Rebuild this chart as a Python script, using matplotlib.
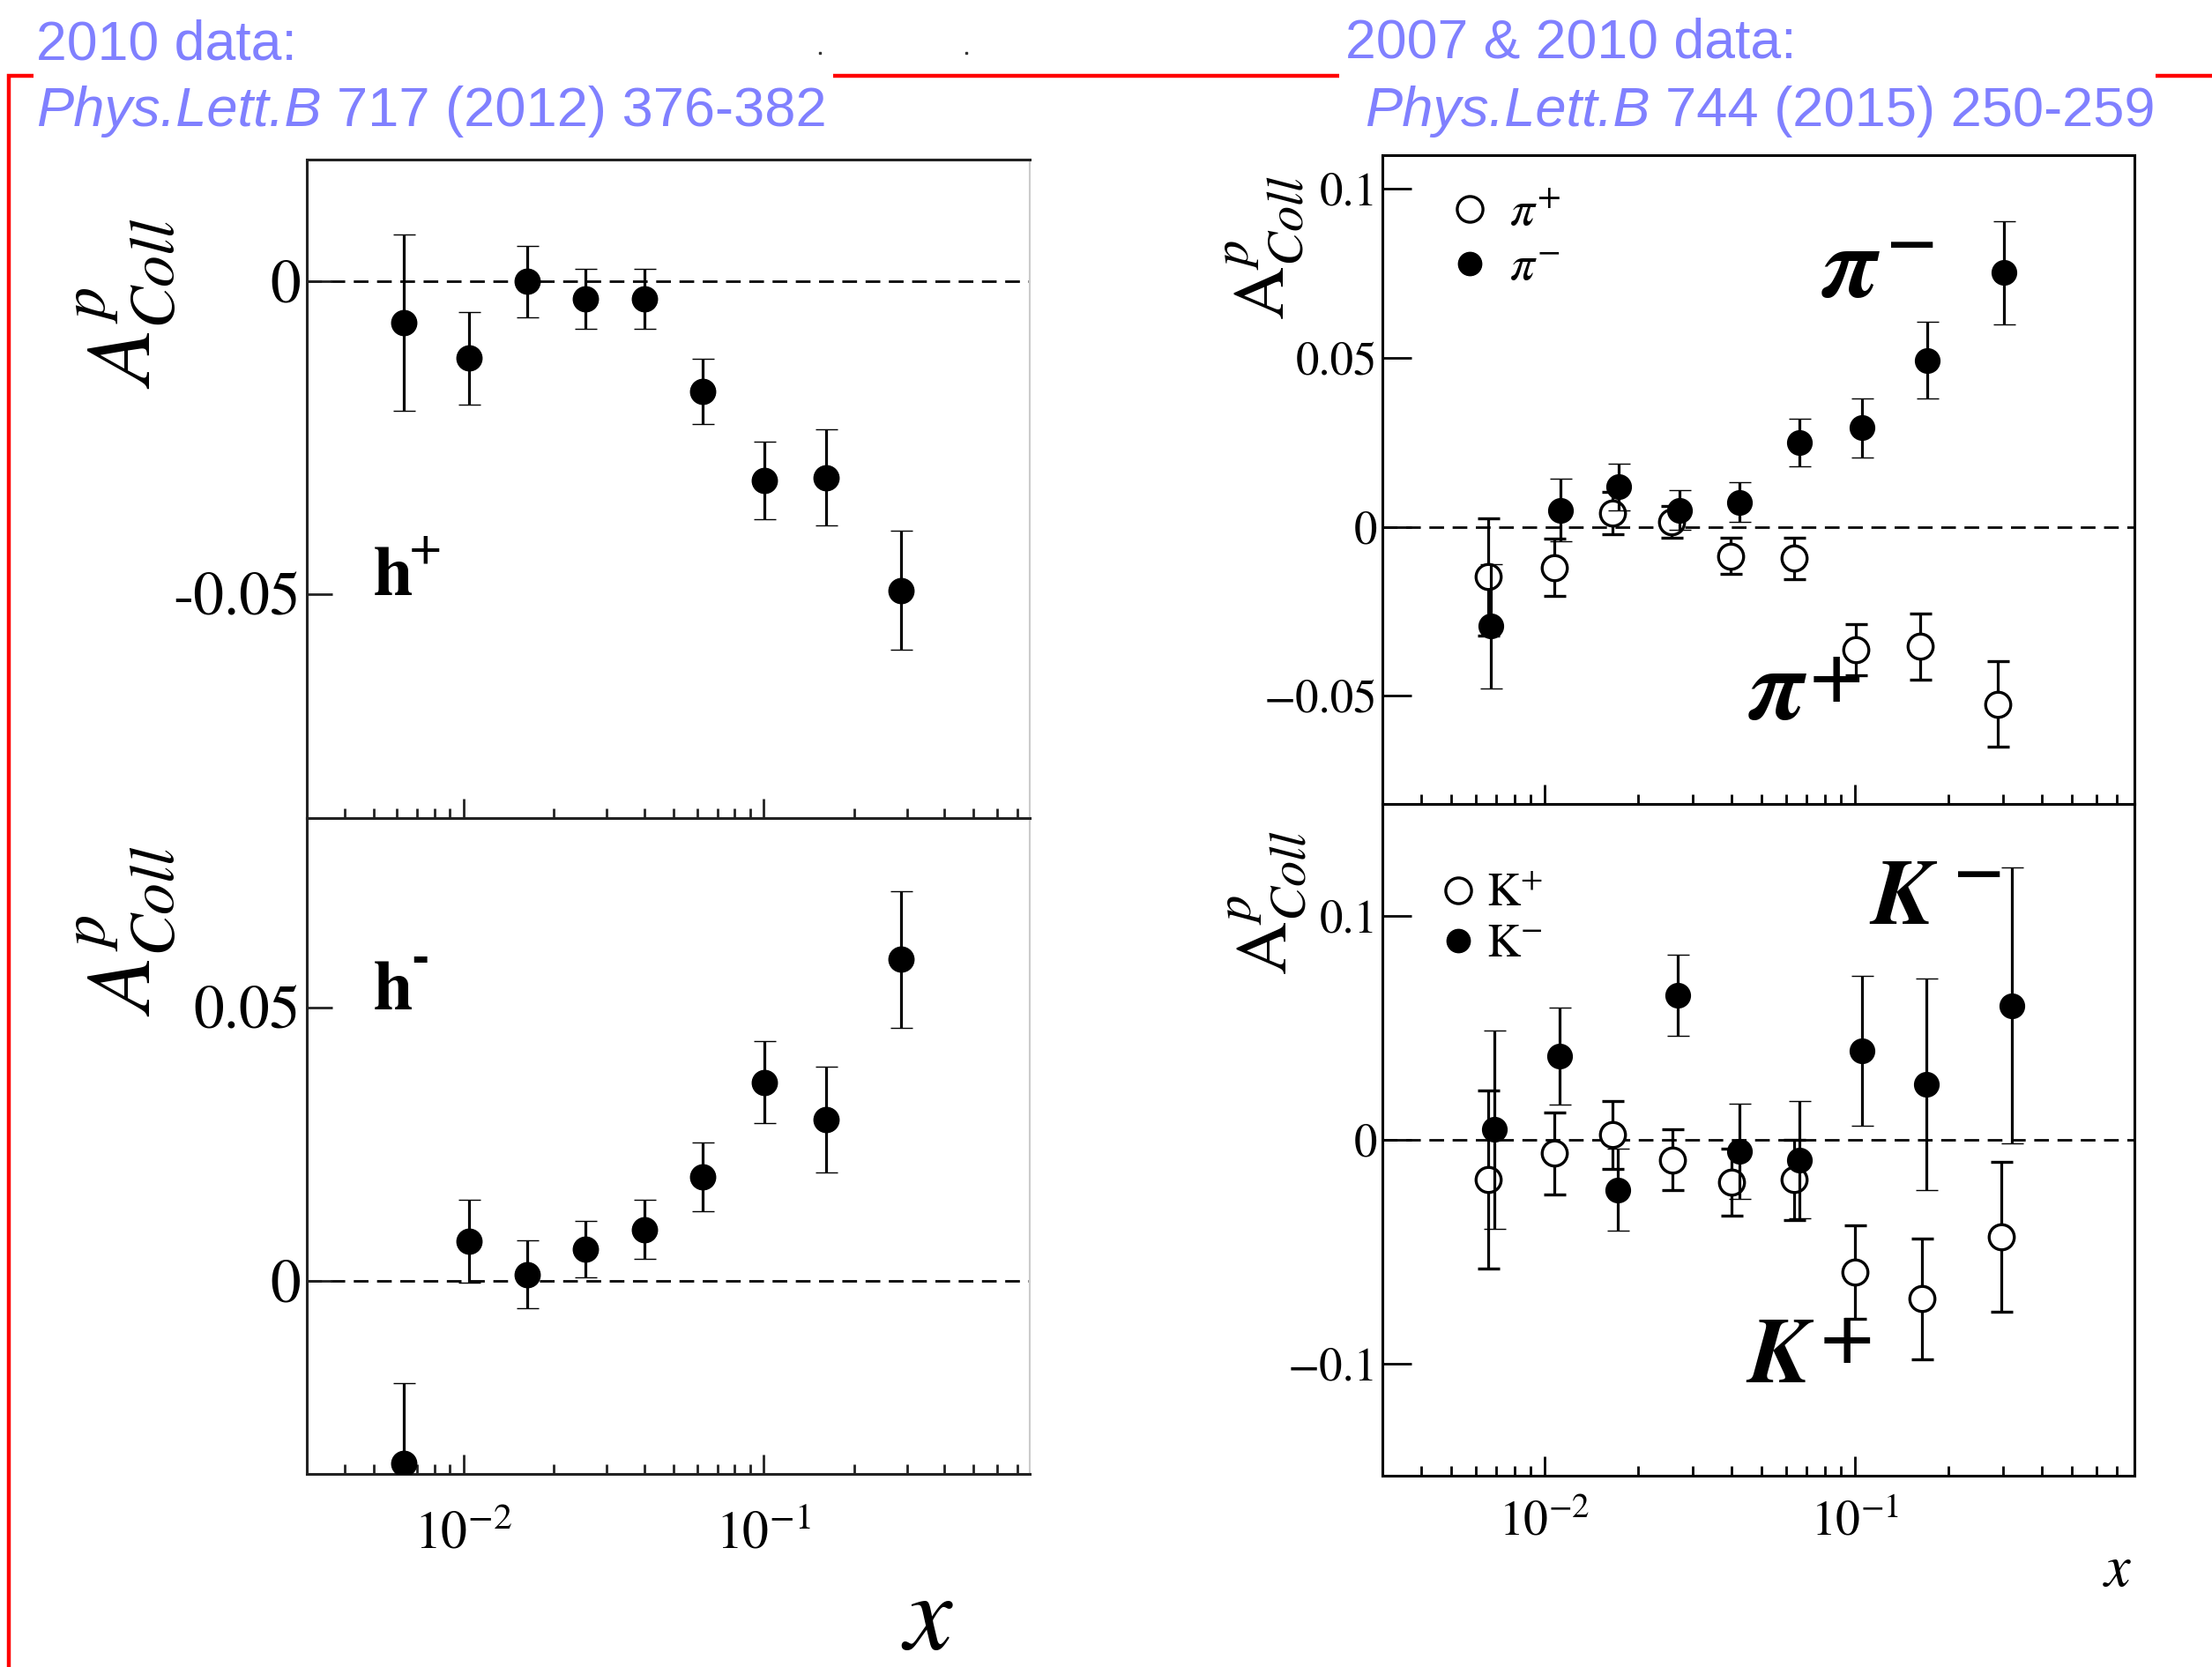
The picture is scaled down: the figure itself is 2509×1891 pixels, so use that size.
import matplotlib
matplotlib.use('Agg')
import matplotlib.pyplot as plt
from matplotlib.lines import Line2D
from matplotlib.ticker import LogLocator, NullFormatter, NullLocator

plt.rcParams['font.family'] = ['STIXGeneral', 'DejaVu Serif']
plt.rcParams['mathtext.fontset'] = 'stix'

W, H = 2509, 1891

# ---------------------------------------------------------------
# Data
# 2010 data, unidentified hadrons
x_h = [0.0063, 0.0104, 0.0163, 0.0255, 0.0400, 0.0624, 0.1004, 0.1618, 0.2865]
hp_val = [-0.0067, -0.0123, -0.0001, -0.0028, -0.0028, -0.0176, -0.0319, -0.0314, -0.0494]
hp_err = [0.0141, 0.0074, 0.0057, 0.0048, 0.0048, 0.0052, 0.0062, 0.0077, 0.0095]
hm_val = [-0.0333, 0.0072, 0.0012, 0.0058, 0.0094, 0.0190, 0.0363, 0.0295, 0.0588]
hm_err = [0.0146, 0.0076, 0.0062, 0.0052, 0.0054, 0.0063, 0.0075, 0.0097, 0.0125]

# 2007 & 2010 data, pions
x_pip = [0.00657, 0.01075, 0.0166, 0.0256, 0.0398, 0.0636, 0.1009, 0.163, 0.289]
pip_val = [-0.0148, -0.0120, 0.0041, 0.0016, -0.0086, -0.0093, -0.0363, -0.0354, -0.0524]
pip_err = [0.0173, 0.0085, 0.0063, 0.0047, 0.0054, 0.0062, 0.0076, 0.0097, 0.0127]
x_pim = [0.00673, 0.01128, 0.01734, 0.0273, 0.0424, 0.0661, 0.1054, 0.171, 0.302]
pim_val = [-0.0294, 0.0050, 0.0118, 0.0050, 0.0073, 0.0250, 0.0293, 0.0493, 0.0752]
pim_err = [0.0184, 0.0092, 0.0068, 0.0058, 0.0058, 0.0070, 0.0087, 0.0114, 0.0153]

# kaons
x_kp = [0.00658, 0.01075, 0.01653, 0.02576, 0.0400, 0.0638, 0.1004, 0.1644, 0.2965]
kp_val = [-0.0176, -0.0060, 0.0022, -0.0089, -0.0189, -0.0179, -0.0590, -0.0710, -0.0434]
kp_err = [0.0397, 0.0183, 0.0152, 0.0137, 0.0150, 0.0178, 0.0210, 0.0270, 0.0335]
x_km = [0.0069, 0.01117, 0.01725, 0.0269, 0.0424, 0.0664, 0.1054, 0.170, 0.320]
km_val = [0.0047, 0.0375, -0.0223, 0.0645, -0.0052, -0.0089, 0.0397, 0.0248, 0.0600]
km_err = [0.0443, 0.0216, 0.0184, 0.0180, 0.0213, 0.0263, 0.0335, 0.0472, 0.0615]

x_ticks = [0.01, 0.1]
left_xlabels = [r'$10^{-2}$', r'$10^{-1}$']
right_xlabels = [r'$10^{-2}$', r'$10^{-1}$']
hp_yticks, hp_ylabels = [-0.05, 0.0], ['-0.05', '0']
hm_yticks, hm_ylabels = [0.0, 0.05], ['0', '0.05']
pi_yticks, pi_ylabels = [-0.05, 0.0, 0.05, 0.1], ['\u22120.05', '0', '0.05', '0.1']
k_yticks, k_ylabels = [-0.1, 0.0, 0.1], ['\u22120.1', '0', '0.1']

blue = '#8080ff'


def fx(px):
    return px / W


def fy(py):
    return 1 - py / H


def box(x0, y0, x1, y1):
    return [fx(x0), fy(y1), (x1 - x0) / W, (y1 - y0) / H]


def style(ax, xlim, ylim, yticks, ylabels, ysize, ylen, ypad,
          xlabels=None, xsize=40, xpad=20, edge='k', right_edge='k'):
    ax.set_xscale('log')
    ax.set_xlim(xlim)
    ax.set_ylim(ylim)
    ax.set_xticks(x_ticks)
    ax.set_xticklabels(xlabels if xlabels else ['', ''])
    ax.xaxis.set_minor_locator(LogLocator(base=10, subs=range(2, 10), numticks=30))
    ax.xaxis.set_minor_formatter(NullFormatter())
    ax.set_yticks(yticks)
    ax.set_yticklabels(ylabels)
    ax.yaxis.set_minor_locator(NullLocator())
    ax.tick_params(axis='x', which='major', direction='in', length=16, width=2,
                   labelsize=xsize, pad=xpad, top=False, color=edge)
    ax.tick_params(axis='x', which='minor', direction='in', length=8, width=2,
                   top=False, color=edge)
    ax.tick_params(axis='y', which='major', direction='in', length=ylen, width=2,
                   labelsize=ysize, pad=ypad, right=False, color=edge)
    for name, sp in ax.spines.items():
        sp.set_linewidth(2.2)
        sp.set_color(edge)
    ax.spines['right'].set_color(right_edge)
    ax.spines['right'].set_linewidth(1.5 if right_edge != 'k' else 2.2)
    ax.axhline(0, color='k', lw=2, ls=(0, (6, 3.5)), zorder=1)


def points(ax, x, y, e, filled, ms=20):
    if filled:
        kw = dict(mfc='k', mec='k', mew=1, zorder=4)
    else:
        kw = dict(mfc='white', mec='k', mew=2.4, zorder=3)
    ax.errorbar(x, y, yerr=e, fmt='o', ms=ms, ecolor='k', elinewidth=2.3,
                capsize=9, capthick=2.3, **kw)


fig = plt.figure(figsize=(W / 100, H / 100), dpi=100)

# ---------------------------------------------------------------
# Left: 2010 data, h+ and h-
ax_hp = fig.add_axes(box(348, 181, 1168, 928))
ax_hm = fig.add_axes(box(348, 928, 1168, 1672))
style(ax_hp, (0.003, 0.77), (-0.0858, 0.0194), hp_yticks, hp_ylabels, 50, 21, 5,
      edge='#222222', right_edge='#cccccc')
style(ax_hm, (0.003, 0.77), (-0.0353, 0.0846), hm_yticks, hm_ylabels, 50, 21, 5,
      xlabels=left_xlabels, xsize=43, xpad=30, edge='#222222', right_edge='#cccccc')
points(ax_hp, x_h, hp_val, hp_err, True, ms=20.5)
points(ax_hm, x_h, hm_val, hm_err, True, ms=20.5)

# ---------------------------------------------------------------
# Right: 2007 & 2010 data, pions and kaons
ax_pi = fig.add_axes(box(1568, 176, 2421, 912))
ax_k = fig.add_axes(box(1568, 912, 2421, 1674))
style(ax_pi, (0.003, 0.797), (-0.082, 0.110), pi_yticks, pi_ylabels, 38, 24, 4)
style(ax_k, (0.003, 0.797), (-0.150, 0.150), k_yticks, k_ylabels, 38, 24, 4,
      xlabels=right_xlabels, xsize=40, xpad=20)
points(ax_pi, x_pip, pip_val, pip_err, False, ms=20.5)
points(ax_pi, x_pim, pim_val, pim_err, True, ms=20)
points(ax_k, x_kp, kp_val, kp_err, False, ms=20.5)
points(ax_k, x_km, km_val, km_err, True, ms=20)

open_h = Line2D([], [], ls='none', marker='o', ms=21, mfc='white', mec='k', mew=2.4)
fill_h = Line2D([], [], ls='none', marker='o', ms=19, mfc='k', mec='k')
ax_pi.legend([open_h, fill_h], [r'$\pi^{+}$', r'$\pi^{-}$'], loc='upper left',
             bbox_to_anchor=(0.084, 0.944), frameon=False, fontsize=40,
             handlelength=1.0, handletextpad=0.3, labelspacing=0.2,
             borderpad=0, borderaxespad=0)
ax_k.legend([open_h, fill_h], [r'$\mathrm{K}^{+}$', r'$\mathrm{K}^{-}$'], loc='upper left',
            bbox_to_anchor=(0.070, 0.896), frameon=False, fontsize=38,
            handlelength=1.0, handletextpad=0.1, labelspacing=0.15,
            borderpad=0, borderaxespad=0)

# ---------------------------------------------------------------
# Panel annotations
fig.text(fx(424), fy(675), 'h', fontsize=58, weight='bold')
fig.text(fx(464), fy(636), '+', fontsize=36, weight='bold')
fig.text(fx(424), fy(1145), 'h', fontsize=58, weight='bold')
fig.text(fx(466), fy(1102), '-', fontsize=44, weight='bold')

big = dict(weight='bold', style='italic', ha='left', va='baseline')
fig.text(fx(2067), fy(337), '\u03c0', fontsize=82, **big)
fig.text(fx(2140), fy(297), '\u2212', fontsize=55, weight='bold', va='baseline')
fig.text(fx(1984), fy(816), '\u03c0', fontsize=82, **big)
fig.text(fx(2052), fy(791), '+', fontsize=60, weight='bold', va='baseline')
fig.text(fx(2122), fy(1048), 'K', fontsize=76, **big)
fig.text(fx(2216), fy(1011), '\u2212', fontsize=55, weight='bold', va='baseline')
fig.text(fx(1982), fy(1568), 'K', fontsize=76, **big)
fig.text(fx(2064), fy(1541), '+', fontsize=60, weight='bold', va='baseline')

# axis titles
fig.text(fx(144), fy(344), r'$A^{p}_{Coll}$', rotation=90, fontsize=74, ha='center', va='center')
fig.text(fx(144), fy(1056), r'$A^{p}_{Coll}$', rotation=90, fontsize=74, ha='center', va='center')
fig.text(fx(1435), fy(281), r'$\mathrm{A}^{p}_{Coll}$', rotation=90, fontsize=60,
         ha='center', va='center')
fig.text(fx(1438), fy(1024), r'$\mathrm{A}^{p}_{Coll}$', rotation=90, fontsize=60,
         ha='center', va='center')
fig.text(fx(1052), fy(1870), 'x', fontsize=88, style='italic', ha='center', va='baseline')
fig.text(fx(2402), fy(1799), 'x', fontsize=48, style='italic', ha='center', va='baseline')

# ---------------------------------------------------------------
# Slide header: references and red bracket
sans = dict(family=['Liberation Sans', 'DejaVu Sans'], color=blue, va='baseline')
fig.text(fx(41), fy(67), '2010 data:', fontsize=45, **sans)
fig.text(fx(1526), fy(65), '2007 & 2010 data:', fontsize=45, **sans)
ref_l = fig.text(fx(41), fy(143), 'Phys.Lett.B', fontsize=45.5, style='italic', **sans)
ref_r = fig.text(fx(1548), fy(143), 'Phys.Lett.B', fontsize=45.5, style='italic', **sans)
fig.canvas.draw()
renderer = fig.canvas.get_renderer()
gap = 0.278 * 45.5 * 100 / 72
for t, rest in [(ref_l, '717 (2012) 376-382'), (ref_r, '744 (2015) 250-259')]:
    bb = t.get_window_extent(renderer)
    fig.text((bb.x1 + gap) / W, fy(143), rest, fontsize=45.5, **sans)

red = dict(color='#ff0000', lw=3.2, solid_joinstyle='miter', solid_capstyle='butt')
fig.add_artist(Line2D([fx(38), fx(9.5), fx(9.5)], [fy(86), fy(86), fy(H)], **red))
fig.add_artist(Line2D([fx(945), fx(1519)], [fy(86), fy(86)], **red))
fig.add_artist(Line2D([fx(2445), fx(W)], [fy(86), fy(86)], **red))
fig.add_artist(Line2D([fx(930), fx(1096)], [fy(60), fy(60)], ls='none', marker='s',
                      ms=1.5, color='#333333'))

fig.savefig('out.png', dpi=100)
